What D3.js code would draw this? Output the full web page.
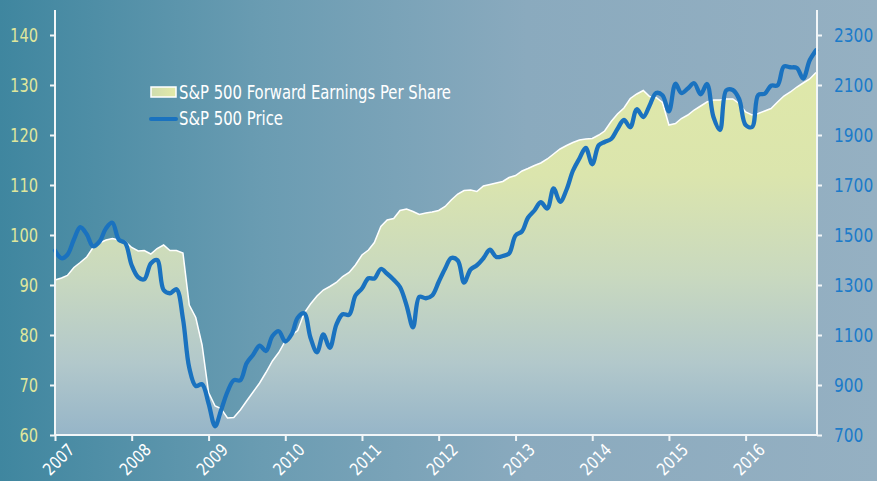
<!DOCTYPE html>
<html>
<head>
<meta charset="utf-8">
<script src="https://cdn.jsdelivr.net/npm/d3@7"></script>
<style>
  html, body { margin: 0; padding: 0; background: #7aa3b8; }
  svg { display: block; }
  text { font-family: "Liberation Sans Narrow", "DejaVu Sans Condensed", "Arial Narrow", sans-serif; }
</style>
</head>
<body>
<div id="chart"></div>
<script>
// ---------------- DATA ----------------
const years = ["2007","2008","2009","2010","2011","2012","2013","2014","2015","2016"];
const startYear = 2007;
// S&P 500 Forward EPS, monthly Jan 2007 - Dec 2016 (left axis)
const eps = [
  91.0, 91.4, 91.9, 93.5, 94.5, 95.6, 97.5, 98.4, 99.0, 99.3, 99.0, 98.7,
  97.5, 96.8, 96.9, 96.2, 97.3, 98.0, 96.9, 96.9, 96.4, 86.0, 83.5, 78.0,
  68.5, 65.8, 65.3, 63.4, 63.5, 65.0, 66.8, 68.6, 70.4, 72.5, 74.8, 76.5,
  78.8, 80.0, 80.9, 84.4, 86.2, 87.8, 89.0, 89.7, 90.5, 91.7, 92.5, 94.0,
  96.0, 97.0, 98.5, 101.7, 103.0, 103.3, 104.9, 105.2, 104.7, 104.1, 104.4, 104.6,
  104.9, 105.7, 107.0, 108.2, 108.9, 109.0, 108.7, 109.8, 110.1, 110.4, 110.7, 111.5,
  111.9, 112.8, 113.3, 113.9, 114.4, 115.2, 116.2, 117.2, 117.9, 118.5, 119.0, 119.2,
  119.3, 120.0, 120.8, 122.7, 124.2, 125.4, 127.3, 128.2, 128.9, 127.7, 127.5, 126.5,
  122.0, 122.3, 123.3, 124.0, 125.0, 125.8, 126.6, 127.0, 127.0, 127.2, 127.2, 126.3,
  124.6, 124.0, 124.3, 124.8, 125.3, 126.6, 127.8, 128.6, 129.6, 130.4, 131.2, 132.5
];
// S&P 500 Price, monthly (right axis)
const price = [
  1438, 1407, 1421, 1482, 1531, 1503, 1455, 1474, 1527, 1549, 1481, 1468,
  1379, 1331, 1323, 1386, 1400, 1280, 1267, 1283, 1165, 969, 896, 903,
  826, 735, 798, 873, 919, 919, 987, 1021, 1057, 1036, 1096, 1115,
  1074, 1104, 1169, 1187, 1089, 1031, 1102, 1049, 1141, 1183, 1181, 1258,
  1286, 1327, 1326, 1364, 1345, 1321, 1292, 1219, 1131, 1253, 1247, 1258,
  1312, 1366, 1408, 1398, 1310, 1362, 1379, 1407, 1441, 1412, 1416, 1426,
  1498, 1515, 1569, 1598, 1631, 1606, 1686, 1633, 1682, 1757, 1806, 1848,
  1783, 1859, 1872, 1884, 1924, 1960, 1931, 2003, 1972, 2018, 2068, 2059,
  1995, 2105, 2068, 2086, 2107, 2063, 2104, 1972, 1920, 2079, 2080, 2044,
  1940, 1932, 2060, 2065, 2097, 2099, 2174, 2171, 2168, 2126, 2199, 2239
];
const leftTicks = [60, 70, 80, 90, 100, 110, 120, 130, 140];
const rightTicks = [700, 900, 1100, 1300, 1500, 1700, 1900, 2100, 2300];
const legendLabels = ["S&P 500 Forward Earnings Per Share", "S&P 500 Price"];

// ---------------- LAYOUT ----------------
const W = 877, H = 481;
const m = { left: 55, right: 61, top: 10, bottom: 46 };
const x0 = m.left, x1 = W - m.right, yB = H - m.bottom, yT = m.top;

const dates = eps.map((d, i) => new Date(startYear, i, 1));

const x = d3.scaleTime().domain([dates[0], dates[dates.length - 1]]).range([x0, x1]);
const yL = d3.scaleLinear().domain([60, 145]).range([yB, yT]);
const yR = d3.scaleLinear().domain([700, 2400]).range([yB, yT]);

const svg = d3.select("#chart").append("svg").attr("width", W).attr("height", H);
const defs = svg.append("defs");

const bg = defs.append("linearGradient").attr("id", "bg").attr("x1", 0).attr("x2", 1).attr("y1", 0).attr("y2", 0);
[[0, "#3f869f"], [0.3, "#6a9cb2"], [0.6, "#8aaabe"], [1, "#95b0c2"]].forEach(s =>
  bg.append("stop").attr("offset", s[0]).attr("stop-color", s[1]));

const ag = defs.append("linearGradient").attr("id", "areaG").attr("gradientUnits", "userSpaceOnUse")
  .attr("x1", 0).attr("x2", 0).attr("y1", yL(140)).attr("y2", yB);
[[0, "#e0e9a8"], [0.35, "#dbe5ad"], [0.6, "#c9d9bf"], [0.82, "#b2c8cb"], [1, "#96b5c8"]].forEach(s =>
  ag.append("stop").attr("offset", s[0]).attr("stop-color", s[1]));

const lg = defs.append("linearGradient").attr("id", "legG").attr("x1", 0).attr("x2", 1);
[[0, "#cfdcae"], [1, "#e3eaa8"]].forEach(s =>
  lg.append("stop").attr("offset", s[0]).attr("stop-color", s[1]));

svg.append("rect").attr("width", W).attr("height", H).attr("fill", "url(#bg)");

// Area (EPS)
const area = d3.area().x((d, i) => x(dates[i])).y0(yB).y1(d => yL(d));
svg.append("path").datum(eps).attr("d", area).attr("fill", "url(#areaG)");
const epsLine = d3.line().x((d, i) => x(dates[i])).y(d => yL(d));
svg.append("path").datum(eps).attr("d", epsLine).attr("fill", "none")
  .attr("stroke", "#ffffff").attr("stroke-width", 1.5);

// Price line
const pLine = d3.line().x((d, i) => x(dates[i])).y(d => yR(d)).curve(d3.curveCatmullRom.alpha(0.5));
svg.append("path").datum(price).attr("d", pLine).attr("fill", "none")
  .attr("stroke", "#1a72bf").attr("stroke-width", 4.3).attr("stroke-linejoin", "round").attr("stroke-linecap", "round");

// Axes
const axisColor = "#f2f6f8";
const gL = svg.append("g").attr("transform", `translate(${x0},0)`)
  .call(d3.axisLeft(yL).tickValues(leftTicks).tickSize(5).tickPadding(12).tickFormat(d3.format("d")));
gL.select(".domain").attr("d", `M0,${yT}V${yB}`);
gL.selectAll("text").attr("fill", "#dfe69c").style("font-size", "19px")
  .attr("textLength", d => String(d).length * 9.3).attr("lengthAdjust", "spacingAndGlyphs");

const gR = svg.append("g").attr("transform", `translate(${x1 + 1},0)`)
  .call(d3.axisRight(yR).tickValues(rightTicks).tickSize(5).tickPadding(12).tickFormat(d3.format("d")));
gR.select(".domain").attr("d", `M0,${yT}V${yB}`);
gR.selectAll("text").attr("fill", "#1c7bc9").style("font-size", "19px")
  .attr("textLength", d => String(d).length * 9.8).attr("lengthAdjust", "spacingAndGlyphs");

const gB = svg.append("g").attr("transform", `translate(0,${yB})`)
  .call(d3.axisBottom(x).tickValues(years.map(y => new Date(+y, 0, 1))).tickFormat(d3.timeFormat("%Y")).tickSize(6));
gB.select(".domain").attr("d", `M${x0},0H${x1 + 1}`);
gB.selectAll("text").attr("fill", "#ffffff").style("font-size", "17px")
  .attr("text-anchor", "end").attr("dy", null).attr("y", null)
  .attr("textLength", 36).attr("lengthAdjust", "spacingAndGlyphs")
  .attr("transform", "translate(20,16) rotate(-45)");

[gL, gR, gB].forEach(g => {
  g.select(".domain").attr("stroke", axisColor).attr("stroke-width", 2);
  g.selectAll(".tick line").attr("stroke", axisColor).attr("stroke-width", 2);
});

// Legend
const leg = svg.append("g");
leg.append("rect").attr("x", 151).attr("y", 87).attr("width", 25).attr("height", 10)
  .attr("fill", "url(#legG)").attr("stroke", "#ffffff").attr("stroke-width", 1.5);
leg.append("line").attr("x1", 151).attr("x2", 176).attr("y1", 119).attr("y2", 119)
  .attr("stroke", "#1a72bf").attr("stroke-width", 4).attr("stroke-linecap", "round");
const legLen = [272, 104];
leg.selectAll("text.l").data(legendLabels).join("text").attr("class", "l")
  .attr("x", 179).attr("y", (d, i) => 98.5 + i * 26)
  .attr("fill", "#ffffff").style("font-size", "19.5px")
  .attr("textLength", (d, i) => legLen[i]).attr("lengthAdjust", "spacingAndGlyphs")
  .text(d => d);
</script>
</body>
</html>
